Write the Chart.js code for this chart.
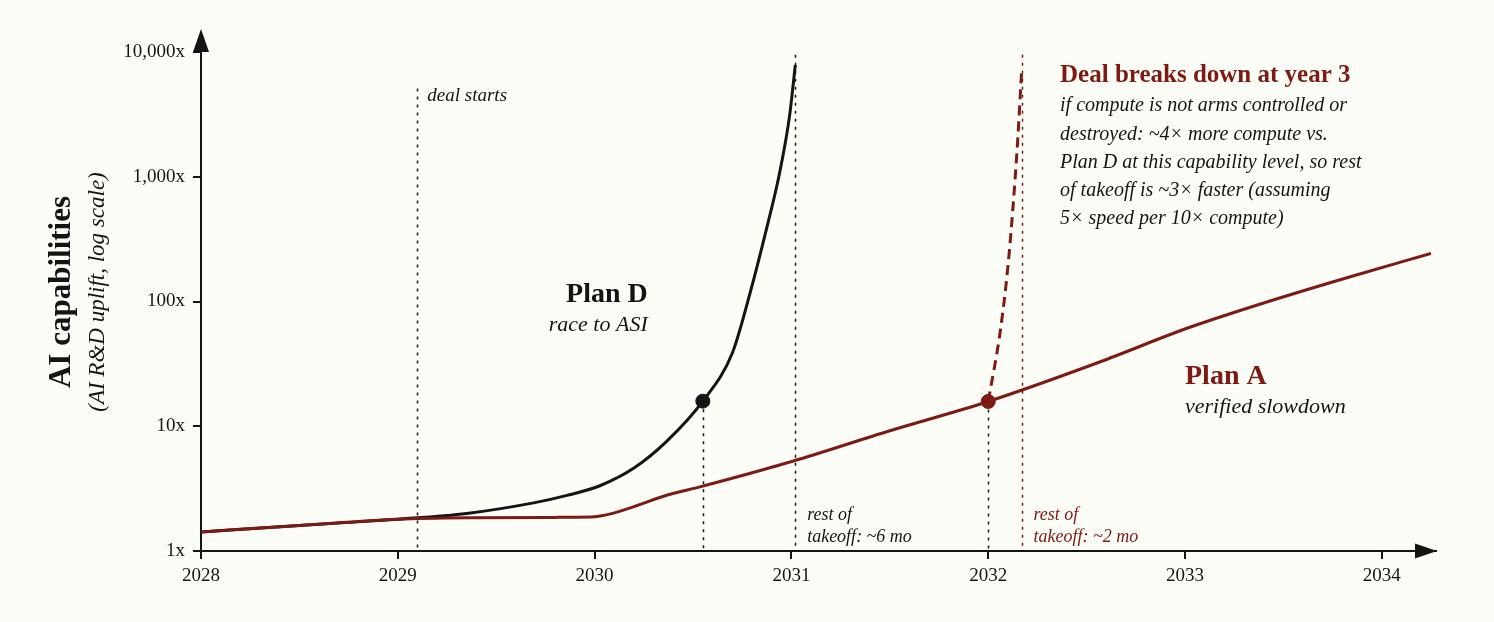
<!DOCTYPE html>
<html>
<head>
<meta charset="utf-8">
<script src="https://cdn.jsdelivr.net/npm/chart.js@4"></script>
<style>
  html, body { margin: 0; padding: 0; background: #fdfdf8; }
  #wrap { width: 1494px; height: 622px; }
</style>
</head>
<body>
<div id="wrap"><canvas id="chart" width="1494" height="622"></canvas></div>
<script>
// Данные
const planDYears  = [2028, 2028.5, 2029, 2029.35, 2029.69, 2029.86, 2030.03, 2030.2, 2030.37, 2030.55, 2030.7, 2030.79, 2030.876, 2030.94, 2030.99, 2031.02];
const planDValues = [1.42, 1.6, 1.8, 2.0, 2.43, 2.79, 3.35, 4.62, 7.67, 15.9, 38.7, 117, 396, 1072, 3018, 7870];

const planAYears  = [2028, 2028.5, 2029, 2029.4, 2029.8, 2029.98, 2030.1, 2030.2, 2030.37, 2030.54, 2031.01, 2031.5, 2032, 2032.57, 2033.01, 2033.42, 2033.84, 2034.25];
const planAValues = [1.42, 1.6, 1.8, 1.85, 1.86, 1.87, 2.02, 2.27, 2.81, 3.28, 5.26, 9.2, 15.8, 32.9, 61, 99.6, 158, 243];

const breakdownYears  = [2032, 2032.06, 2032.1, 2032.126, 2032.15, 2032.17];
const breakdownValues = [15.8, 56, 189, 572, 1972, 7170];

const xTickYears  = [2028, 2029, 2030, 2031, 2032, 2033, 2034];
const yTickValues = [1, 10, 100, 1000, 10000];
const yTickLabels = ['1x', '10x', '100x', '1,000x', '10,000x'];

// вертикальные пунктиры
const guideYears  = [2029.1, 2030.55, 2031.02, 2032.0, 2032.17];
const guideTops   = [5100, 15.9, 9500, 15.8, 9500];

const RED = '#7d1a14';
const INK = '#141414';
const SERIF = '"Liberation Serif", "DejaVu Serif", serif';

const pts = (xs, ys) => xs.map((x, i) => ({ x: x, y: ys[i] }));

const decorPlugin = {
  id: 'decor',
  beforeDraw(chart) {
    const c = chart.ctx;
    c.save();
    c.fillStyle = '#fdfdf8';
    c.fillRect(0, 0, chart.width, chart.height);
    c.restore();
  },
  beforeDatasetsDraw(chart) {
    const c = chart.ctx, x = chart.scales.x, y = chart.scales.y;
    const bottom = chart.chartArea.bottom;
    c.save();
    c.lineWidth = 1.5;
    c.setLineDash([3, 5]);
    guideYears.forEach((yr, i) => {
      c.strokeStyle = yr === 2032.17 ? RED : INK;
      const px = Math.round(x.getPixelForValue(yr)) + 0.5;
      c.beginPath();
      c.moveTo(px, y.getPixelForValue(guideTops[i]));
      c.lineTo(px, bottom);
      c.stroke();
    });
    c.restore();
  },
  afterDraw(chart) {
    const c = chart.ctx, x = chart.scales.x, y = chart.scales.y;
    const a = chart.chartArea;
    c.save();
    // оси со стрелками
    c.strokeStyle = INK;
    c.fillStyle = INK;
    c.lineWidth = 2;
    c.beginPath();
    c.moveTo(a.left, a.top);
    c.lineTo(a.left, 40);
    c.moveTo(a.right, a.bottom);
    c.lineTo(a.right + 6, a.bottom);
    c.stroke();
    c.beginPath();
    c.moveTo(a.left, 29);
    c.lineTo(a.left - 8, 52);
    c.lineTo(a.left + 8, 52);
    c.closePath();
    c.fill();
    c.beginPath();
    c.moveTo(a.right + 6, a.bottom);
    c.lineTo(a.right - 16, a.bottom - 7.5);
    c.lineTo(a.right - 16, a.bottom + 7.5);
    c.closePath();
    c.fill();

    // подпись оси Y
    c.textAlign = 'center';
    c.textBaseline = 'middle';
    c.translate(62, 292);
    c.rotate(-Math.PI / 2);
    c.font = 'bold 31px ' + SERIF;
    c.fillText('AI capabilities', 0, 0);
    c.font = 'italic 23px ' + SERIF;
    c.fillText('(AI R&D uplift, log scale)', 0, 36);
    c.setTransform(1, 0, 0, 1, 0, 0);
    c.restore();

    c.save();
    c.textBaseline = 'middle';
    const text = (s, yr, val, dy, font, color, align) => {
      c.font = font;
      c.fillStyle = color;
      c.textAlign = align || 'left';
      c.fillText(s, x.getPixelForValue(yr), y.getPixelForValue(val) + dy);
    };
    text('deal starts', 2029.15, 5100, 8, 'italic 19px ' + SERIF, INK);

    text('Plan D', 2030.27, 113, 0, 'bold 28px ' + SERIF, INK, 'right');
    text('race to ASI', 2030.27, 113, 30, 'italic 22px ' + SERIF, INK, 'right');

    text('Plan A', 2033.0, 24.8, 0, 'bold 28px ' + SERIF, RED);
    text('verified slowdown', 2033.0, 24.8, 30, 'italic 22px ' + SERIF, INK);

    text('rest of', 2031.08, 1.94, 0, 'italic 18px ' + SERIF, INK);
    text('takeoff: ~6 mo', 2031.08, 1.94, 22, 'italic 18px ' + SERIF, INK);
    text('rest of', 2032.23, 1.94, 0, 'italic 18px ' + SERIF, RED);
    text('takeoff: ~2 mo', 2032.23, 1.94, 22, 'italic 18px ' + SERIF, RED);

    text('Deal breaks down at year 3', 2032.365, 6420, 0, 'bold 25px ' + SERIF, RED);
    const lines = [
      'if compute is not arms controlled or',
      'destroyed: ~4\u00d7 more compute vs.',
      'Plan D at this capability level, so rest',
      'of takeoff is ~3\u00d7 faster (assuming',
      '5\u00d7 speed per 10\u00d7 compute)'
    ];
    lines.forEach((s, i) => text(s, 2032.365, 6420, 30 + i * 28.3, 'italic 20px ' + SERIF, INK));
    c.restore();
  }
};

const ctx = document.getElementById('chart').getContext('2d');
new Chart(ctx, {
  type: 'line',
  data: {
    datasets: [
      {
        label: 'Plan A',
        data: pts(planAYears, planAValues),
        borderColor: RED,
        borderWidth: 3,
        pointRadius: 0,
        cubicInterpolationMode: 'monotone'
      },
      {
        label: 'Deal breaks down',
        data: pts(breakdownYears, breakdownValues),
        borderColor: RED,
        borderWidth: 3,
        borderDash: [10, 6],
        pointRadius: 0,
        cubicInterpolationMode: 'monotone'
      },
      {
        label: 'Plan D',
        data: pts(planDYears, planDValues),
        borderColor: INK,
        borderWidth: 3,
        pointRadius: 0,
        cubicInterpolationMode: 'monotone'
      },
      {
        type: 'scatter',
        label: 'A point',
        data: [{ x: 2032.0, y: 15.8 }],
        backgroundColor: RED,
        borderColor: RED,
        pointRadius: 7
      },
      {
        type: 'scatter',
        label: 'D point',
        data: [{ x: 2030.55, y: 15.9 }],
        backgroundColor: INK,
        borderColor: INK,
        pointRadius: 7
      }
    ]
  },
  options: {
    responsive: false,
    animation: false,
    layout: { padding: { top: 52, right: 63, left: 0, bottom: 0 } },
    plugins: { legend: { display: false }, tooltip: { enabled: false } },
    scales: {
      x: {
        type: 'linear',
        min: 2028,
        max: 2034.25,
        afterBuildTicks: s => { s.ticks = xTickYears.map(v => ({ value: v })); },
        afterFit: s => { s.height = 71; },
        ticks: {
          color: INK,
          font: { family: SERIF, size: 19 },
          padding: 6,
          maxRotation: 0,
          callback: v => String(v)
        },
        grid: { drawOnChartArea: false, drawTicks: true, tickLength: 8, color: INK, lineWidth: 2 },
        border: { display: true, color: INK, width: 2 }
      },
      y: {
        type: 'logarithmic',
        min: 1,
        max: 10000,
        afterBuildTicks: s => { s.ticks = yTickValues.map(v => ({ value: v })); },
        afterFit: s => { s.width = 201; },
        ticks: {
          color: INK,
          font: { family: SERIF, size: 19 },
          padding: 8,
          callback: v => yTickLabels[yTickValues.indexOf(v)]
        },
        grid: { drawOnChartArea: false, drawTicks: true, tickLength: 8, color: INK, lineWidth: 2 },
        border: { display: true, color: INK, width: 2 }
      }
    }
  },
  plugins: [decorPlugin]
});
</script>
</body>
</html>
